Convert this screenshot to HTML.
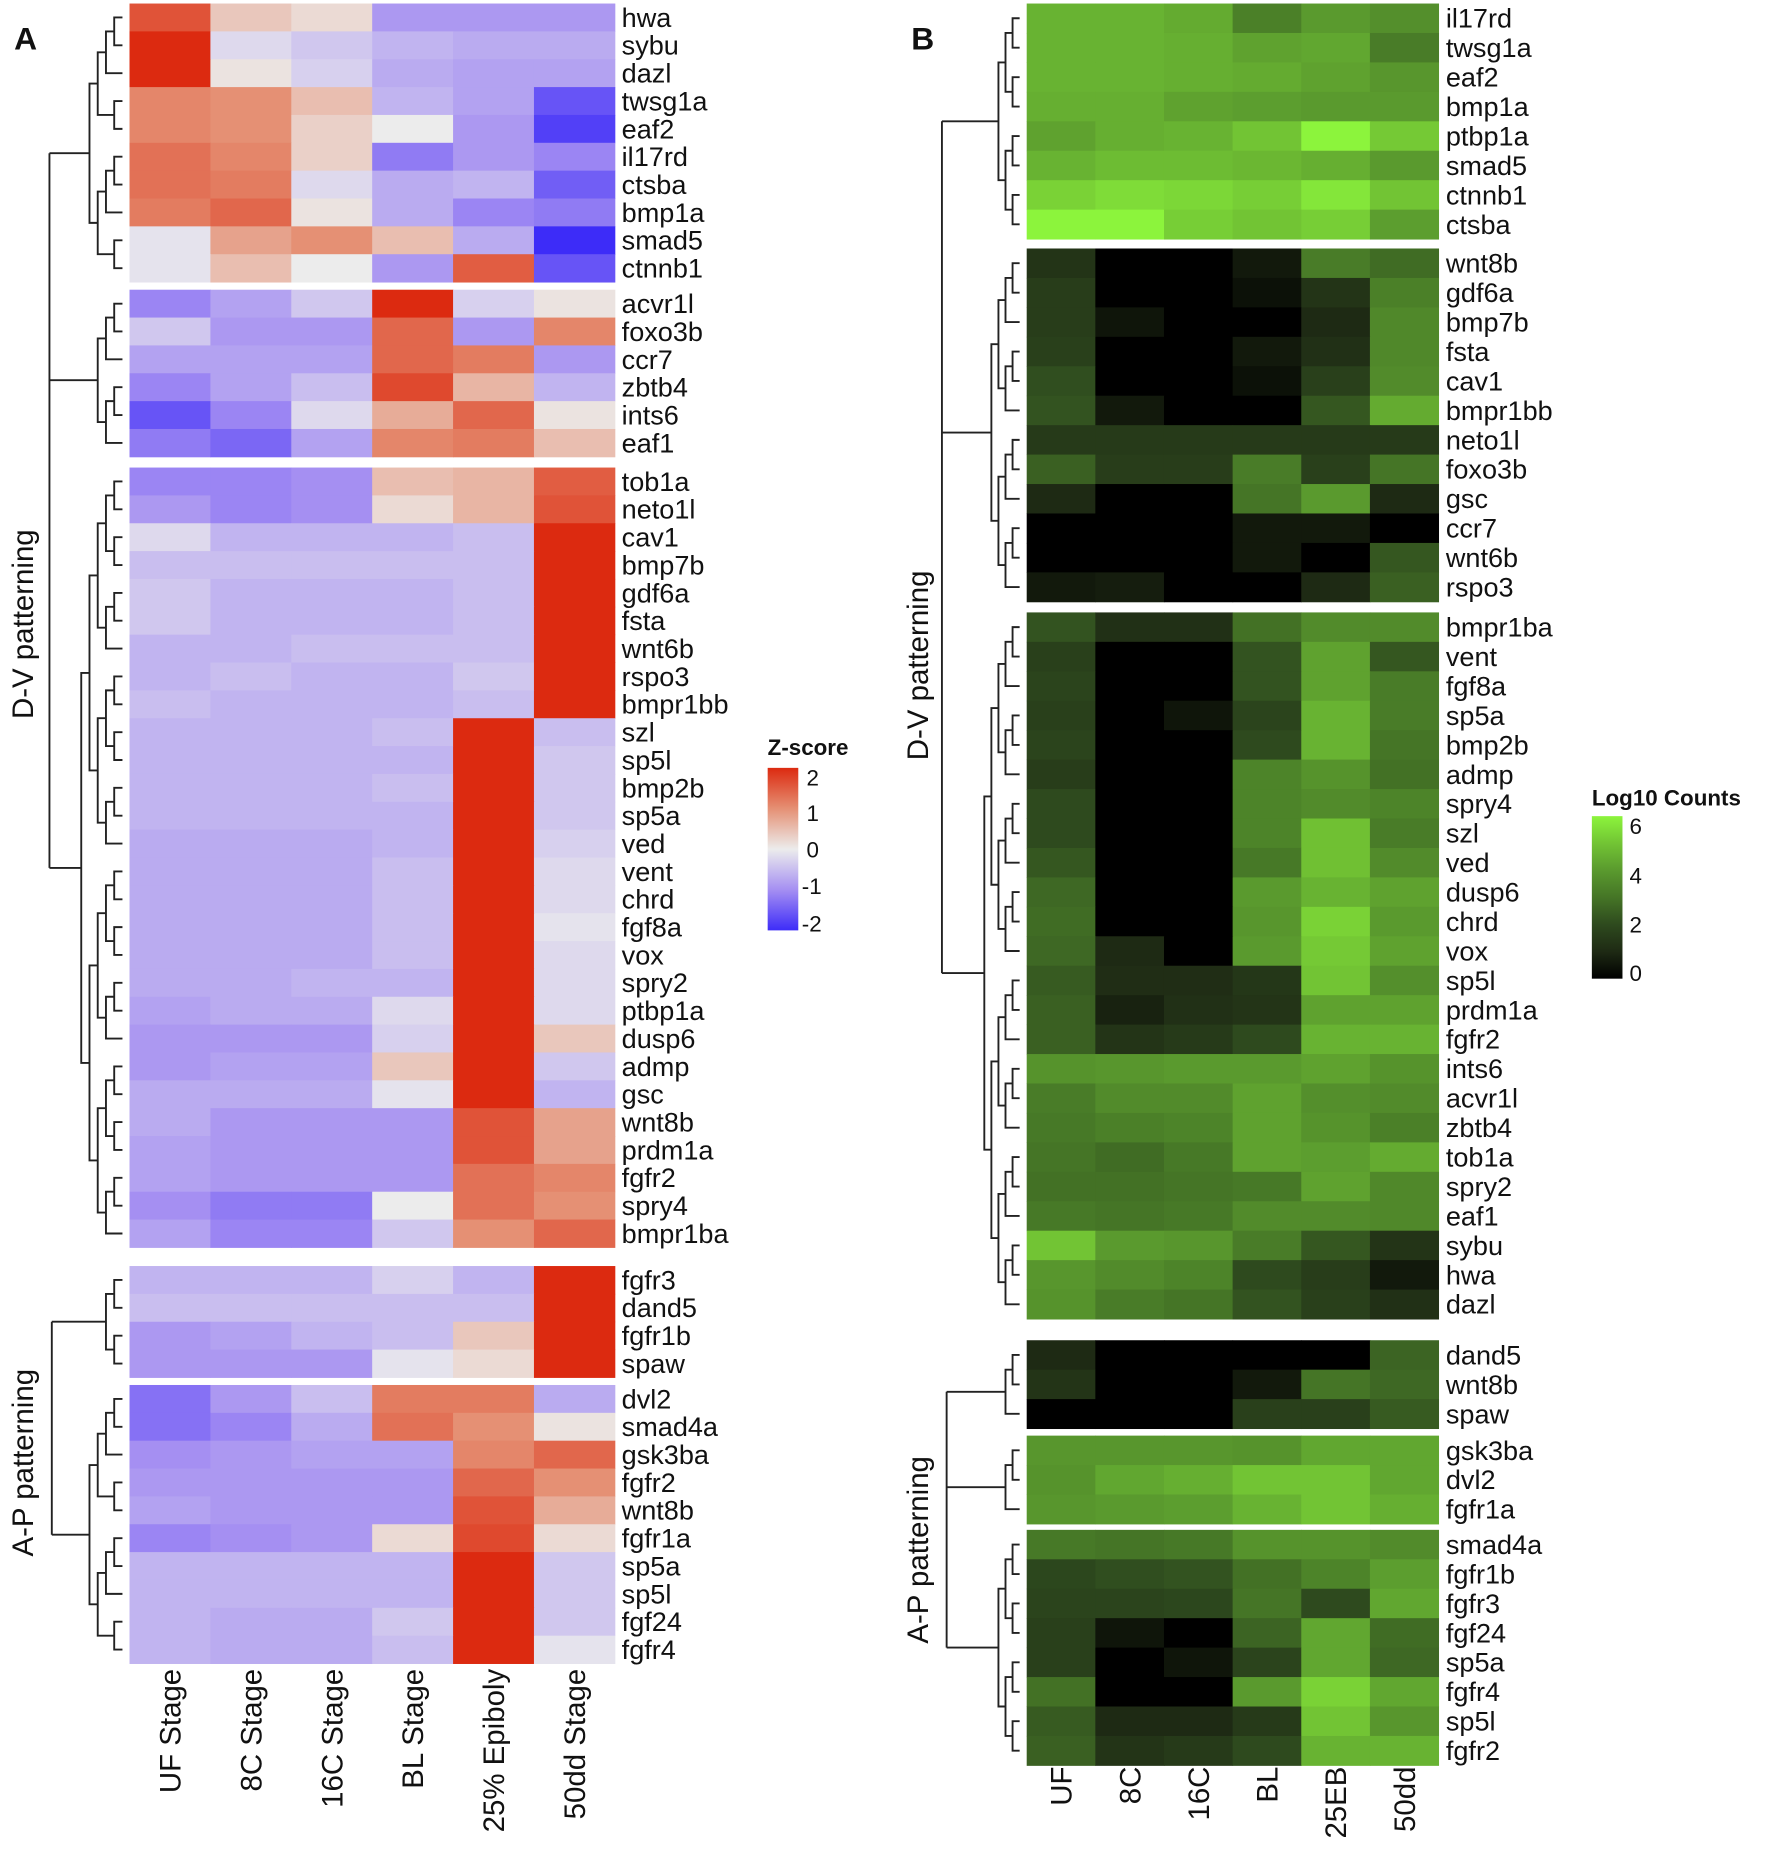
<!DOCTYPE html>
<html><head><meta charset="utf-8"><style>
html,body{margin:0;padding:0;background:#fff}
svg{display:block}
text{font-family:"Liberation Sans",Arial,sans-serif;fill:#111}
</style></head><body>
<svg id="fig" width="1772" height="1849" viewBox="0 0 1505 1570" preserveAspectRatio="none" xmlns="http://www.w3.org/2000/svg">
<text x="12" y="42" font-size="27" font-weight="bold">A</text>
<text x="774" y="42" font-size="27" font-weight="bold">B</text>
<text transform="translate(28,530) rotate(-90)" text-anchor="middle" font-size="25">D-V patterning</text>
<text transform="translate(28,1242) rotate(-90)" text-anchor="middle" font-size="25">A-P patterning</text>
<text transform="translate(788,565) rotate(-90)" text-anchor="middle" font-size="25">D-V patterning</text>
<text transform="translate(788,1316) rotate(-90)" text-anchor="middle" font-size="25">A-P patterning</text>
<g id="A"></g><g id="B"></g>
<g>
<text x="652" y="641" font-size="19" font-weight="bold">Z-score</text>
<defs>
<linearGradient id="gz" x1="0" y1="0" x2="0" y2="1">
<stop offset="0" stop-color="#dc2a10"/><stop offset="0.25" stop-color="#e59074"/><stop offset="0.5" stop-color="#ececec"/><stop offset="0.75" stop-color="#a58ff2"/><stop offset="1" stop-color="#3d2cf8"/></linearGradient>
<linearGradient id="gg" x1="0" y1="0" x2="0" y2="1">
<stop offset="0" stop-color="#8cf43c"/><stop offset="0.1667" stop-color="#72c434"/><stop offset="0.333" stop-color="#5a9a2e"/><stop offset="0.5" stop-color="#457526"/><stop offset="0.6667" stop-color="#2e4a1e"/><stop offset="0.8333" stop-color="#1e2a14"/><stop offset="1" stop-color="#000"/></linearGradient>
</defs>
<rect x="652" y="652" width="26" height="138" fill="url(#gz)"/>
<g font-size="19">
<text x="685" y="667">2</text><text x="685" y="697">1</text><text x="685" y="728">0</text><text x="681" y="759">-1</text><text x="681" y="791">-2</text>
</g>
<text x="1352" y="684" font-size="19" font-weight="bold">Log10 Counts</text>
<rect x="1352" y="693" width="26" height="138" fill="url(#gg)"/>
<g font-size="19"><text x="1384" y="708">6</text><text x="1384" y="750">4</text><text x="1384" y="792">2</text><text x="1384" y="833">0</text></g>
</g>
</svg>
<script>
const colsA=["UF Stage","8C Stage","16C Stage","BL Stage","25% Epiboly","50dd Stage"];
const colsB=["UF","8C","16C","BL","25EB","50dd"];
const genesA=[["hwa","sybu","dazl","twsg1a","eaf2","il17rd","ctsba","bmp1a","smad5","ctnnb1"],
["acvr1l","foxo3b","ccr7","zbtb4","ints6","eaf1"],
["tob1a","neto1l","cav1","bmp7b","gdf6a","fsta","wnt6b","rspo3","bmpr1bb","szl","sp5l","bmp2b","sp5a","ved","vent","chrd","fgf8a","vox","spry2","ptbp1a","dusp6","admp","gsc","wnt8b","prdm1a","fgfr2","spry4","bmpr1ba"],
["fgfr3","dand5","fgfr1b","spaw"],
["dvl2","smad4a","gsk3ba","fgfr2","wnt8b","fgfr1a","sp5a","sp5l","fgf24","fgfr4"]];
const zA=[
[1.6,0.4,0.2,-0.9,-0.9,-0.9],[2.1,-0.2,-0.4,-0.6,-0.7,-0.7],[2.0,0.1,-0.3,-0.7,-0.8,-0.8],[1.1,1.0,0.5,-0.6,-0.8,-1.6],[1.1,1.0,0.3,0.0,-0.9,-1.8],[1.3,1.1,0.3,-1.2,-0.9,-1.1],[1.3,1.2,-0.2,-0.7,-0.6,-1.5],[1.2,1.4,0.1,-0.7,-1.1,-1.2],[-0.1,0.8,1.0,0.5,-0.7,-2.1],[-0.1,0.5,0.0,-0.9,1.5,-1.6],
[-1.1,-0.8,-0.4,2.1,-0.3,0.1],[-0.4,-0.9,-0.9,1.4,-0.9,1.1],[-0.8,-0.8,-0.8,1.4,1.2,-0.9],[-1.1,-0.8,-0.5,1.7,0.6,-0.6],[-1.6,-1.1,-0.2,0.7,1.4,0.1],[-1.2,-1.4,-0.8,1.1,1.2,0.5],
[-1.1,-1.1,-1.0,0.5,0.6,1.5],[-0.9,-1.1,-1.0,0.2,0.6,1.6],[-0.2,-0.6,-0.6,-0.6,-0.5,2.2],[-0.5,-0.5,-0.5,-0.5,-0.5,2.2],[-0.4,-0.6,-0.6,-0.6,-0.5,2.2],[-0.4,-0.6,-0.6,-0.6,-0.5,2.2],[-0.6,-0.6,-0.5,-0.5,-0.5,2.2],[-0.6,-0.5,-0.6,-0.6,-0.4,2.2],[-0.5,-0.6,-0.6,-0.6,-0.5,2.2],
[-0.6,-0.6,-0.6,-0.5,2.2,-0.5],[-0.6,-0.6,-0.6,-0.6,2.2,-0.4],[-0.6,-0.6,-0.6,-0.5,2.2,-0.4],[-0.6,-0.6,-0.6,-0.6,2.2,-0.4],[-0.7,-0.7,-0.7,-0.6,2.2,-0.3],[-0.7,-0.7,-0.7,-0.5,2.2,-0.2],[-0.7,-0.7,-0.7,-0.5,2.2,-0.2],[-0.7,-0.7,-0.7,-0.5,2.2,-0.1],[-0.7,-0.7,-0.7,-0.5,2.2,-0.2],[-0.7,-0.7,-0.6,-0.6,2.2,-0.2],[-0.8,-0.7,-0.7,-0.2,2.2,-0.2],[-0.9,-0.9,-0.9,-0.3,2.0,0.4],[-0.9,-0.8,-0.8,0.4,2.0,-0.4],[-0.7,-0.7,-0.7,-0.1,2.2,-0.6],
[-0.7,-0.9,-0.9,-0.9,1.6,0.8],[-0.8,-0.9,-0.9,-0.9,1.6,0.8],[-0.8,-0.9,-0.9,-0.9,1.3,1.1],[-1.0,-1.2,-1.2,0.0,1.3,1.0],[-0.8,-1.1,-1.1,-0.4,1.0,1.4],
[-0.6,-0.6,-0.6,-0.3,-0.6,2.2],[-0.5,-0.5,-0.5,-0.5,-0.5,2.2],[-0.9,-0.8,-0.6,-0.5,0.4,2.0],[-0.9,-0.9,-0.9,-0.1,0.2,2.0],
[-1.3,-0.9,-0.5,1.2,1.2,-0.7],[-1.3,-1.1,-0.7,1.3,1.0,0.1],[-1.0,-0.9,-0.8,-0.8,1.1,1.4],[-0.9,-0.9,-0.9,-0.9,1.4,1.0],[-0.8,-0.9,-0.9,-0.9,1.6,0.7],[-1.1,-1.0,-0.9,0.2,1.7,0.2],[-0.6,-0.6,-0.6,-0.6,2.2,-0.4],[-0.6,-0.6,-0.6,-0.6,2.2,-0.4],[-0.6,-0.7,-0.7,-0.4,2.2,-0.4],[-0.6,-0.7,-0.7,-0.5,2.2,-0.1]];
const genesB=[["il17rd","twsg1a","eaf2","bmp1a","ptbp1a","smad5","ctnnb1","ctsba"],
["wnt8b","gdf6a","bmp7b","fsta","cav1","bmpr1bb","neto1l","foxo3b","gsc","ccr7","wnt6b","rspo3"],
["bmpr1ba","vent","fgf8a","sp5a","bmp2b","admp","spry4","szl","ved","dusp6","chrd","vox","sp5l","prdm1a","fgfr2","ints6","acvr1l","zbtb4","tob1a","spry2","eaf1","sybu","hwa","dazl"],
["dand5","wnt8b","spaw"],["gsk3ba","dvl2","fgfr1a"],
["smad4a","fgfr1b","fgfr3","fgf24","sp5a","fgfr4","sp5l","fgfr2"]];
const logB=[
[4.6,4.6,4.4,3.3,4.0,3.7],[4.6,4.6,4.5,4.2,4.3,3.2],[4.6,4.6,4.5,4.4,4.2,3.9],[4.5,4.5,4.2,4.1,4.0,4.0],[4.2,4.5,4.6,5.0,6.0,5.1],[4.6,4.8,4.8,4.7,4.5,4.0],[5.3,5.5,5.4,5.2,5.7,5.0],[6.0,6.0,5.2,5.0,5.2,4.1],
[1.3,0,0,0.6,3.2,2.8],[1.6,0,0,0.4,1.3,3.3],[1.6,0.5,0,0,1.0,3.5],[1.7,0,0,0.6,1.2,3.5],[2.1,0,0,0.4,1.7,3.6],[2.2,0.6,0,0,2.3,4.4],[1.5,1.5,1.5,1.5,1.5,1.5],[2.5,1.6,1.6,3.2,1.7,3.0],[1.0,0,0,3.0,4.0,1.0],[0,0,0,0.6,0.6,0],[0,0,0,0.6,0,2.3],[0.6,0.7,0,0,1.0,2.5],
[2.2,1.2,1.2,2.9,3.6,3.6],[1.7,0,0,2.2,4.2,2.3],[1.8,0,0,2.2,4.2,3.2],[1.7,0,0.5,1.8,4.6,3.2],[1.8,0,0,2.0,4.6,3.0],[1.6,0,0,3.4,3.8,2.9],[2.0,0,0,3.4,3.6,3.4],[2.0,0,0,3.4,4.9,3.2],[2.3,0,0,3.1,4.9,3.6],[2.7,0,0,4.0,4.6,4.2],[2.8,0,0,3.9,5.3,4.0],[2.7,1.0,0,4.0,5.1,4.2],[2.4,1.1,1.1,1.4,5.0,3.7],[2.5,0.8,1.2,1.3,4.2,4.2],[2.5,1.3,1.5,2.0,4.6,4.6],[3.8,3.9,4.0,4.0,4.2,3.8],[3.2,3.6,3.6,4.2,3.7,3.6],[3.1,3.3,3.4,4.2,3.8,3.3],[3.0,2.8,3.1,4.2,4.1,4.4],[2.9,2.9,3.0,3.1,4.2,3.5],[3.1,3.0,3.1,3.6,3.6,3.5],[5.0,4.0,3.9,3.2,2.3,1.3],[3.9,3.6,3.4,2.0,1.6,0.6],[3.8,3.2,3.0,2.2,1.7,1.2],
[1.0,0,0,0,0,2.6],[1.3,0,0,0.6,3.0,2.7],[0,0,0,1.7,1.7,2.4],
[3.9,3.9,3.9,3.8,4.3,4.3],[3.8,4.3,4.5,5.0,5.0,4.3],[3.9,4.0,4.1,4.6,5.0,4.5],
[3.1,3.0,3.1,3.8,3.8,3.6],[1.9,2.1,2.2,2.9,3.4,4.1],[1.8,1.8,1.9,3.0,2.0,4.3],[1.7,0.5,0,2.6,4.3,2.8],[1.7,0,0.5,1.8,4.3,2.7],[2.9,0,0,4.0,5.3,4.3],[2.4,1.0,1.0,1.5,5.0,3.9],[2.5,1.3,1.5,2.0,4.6,4.6]];

const NS="http://www.w3.org/2000/svg";
function mk(t,a,p){const e=document.createElementNS(NS,t);for(const k in a)e.setAttribute(k,a[k]);p.appendChild(e);return e;}
function hex(h){return [1,3,5].map(i=>parseInt(h.substr(i,2),16));}
function interp(stops,v){if(v<=stops[0][0])return stops[0][1];const L=stops[stops.length-1];if(v>=L[0])return L[1];
 for(let i=0;i<stops.length-1;i++){const a=stops[i],b=stops[i+1];if(v<=b[0]){const t=(v-a[0])/(b[0]-a[0]);const c1=hex(a[1]),c2=hex(b[1]);return "rgb("+c1.map((c,j)=>Math.round(c+(c2[j]-c)*t)).join(",")+")";}}}
const zStops=[[-2,"#3d2cf8"],[-1,"#a58ff2"],[0,"#ececec"],[1,"#e59074"],[2,"#dc2a10"]];
const gStops=[[0,"#000000"],[1,"#1e2a14"],[2,"#2e4a1e"],[3,"#457526"],[4,"#5a9a2e"],[5,"#72c434"],[6,"#8cf43c"]];

function tree(g,ys,xLeaf,step,lo,hi){
 if(lo===hi)return {y:ys[lo],x:xLeaf};
 const m=Math.floor((lo+hi)/2);
 const a=tree(g,ys,xLeaf,step,lo,m),b=tree(g,ys,xLeaf,step,m+1,hi);
 const x=Math.min(a.x,b.x)-step;
 const l1=mk("path",{d:`M${a.x},${a.y}H${x}V${b.y}H${b.x}`,fill:"none",stroke:"#222","stroke-width":1.6},g);
 
 
 return {y:(a.y+b.y)/2,x:x};
}

function panel(id,genes,vals,cols,stops,x0,colW,starts,rowH,labelX,xLeaf,step,groupsJoin,colLabelY,colFont){
 const g=document.getElementById(id);
 let r=0;const roots=[];
 genes.forEach((grp,gi)=>{
  const ys=[];
  grp.forEach((name,i)=>{
   const y=starts[gi]+i*rowH;ys.push(y+rowH/2);
   const row=vals[r]||[];
   row.forEach((v,c)=>{
    const rc=mk("rect",{x:x0+c*colW,y:y,width:colW+0.4,height:rowH+0.4,fill:interp(stops,v)},g);
    
    
   });
   const t=mk("text",{x:labelX,y:y+rowH/2+8,"font-size":23},g);t.textContent=name;
   
   
   r++;
  });
  roots.push(tree(g,ys,xLeaf,step,0,ys.length-1));
 });
 groupsJoin.forEach(j=>{
  const xs=j.ids.map(i=>roots[i]);
  const p=mk("path",{d:xs.map(n=>`M${n.x},${n.y}H${j.x}`).join("")+`M${j.x},${xs[0].y}V${xs[xs.length-1].y}`,fill:"none",stroke:"#222","stroke-width":1.6},g);
  
  
 });
 cols.forEach((c,i)=>{
  const cx=x0+(i+0.5)*colW+9;
  const t=mk("text",{transform:`translate(${cx},${colLabelY}) rotate(-90)`,"text-anchor":"end","font-size":colFont},g);
  t.textContent=c;
  
  
 });
}
panel("A",genesA,zA,colsA,zStops,110,68.7,[3,246,397,1075,1176],23.65,528,104,7,
 [{ids:[0,1,2],x:42},{ids:[3,4],x:44}],1417,25);
panel("B",genesB,logB,colsB,gStops,872,58.3,[3,211,520,1138,1219,1299],25.0,1228,866,6,
 [{ids:[0,1,2],x:800},{ids:[3,4,5],x:804}],1500,25);
</script>
</body></html>
